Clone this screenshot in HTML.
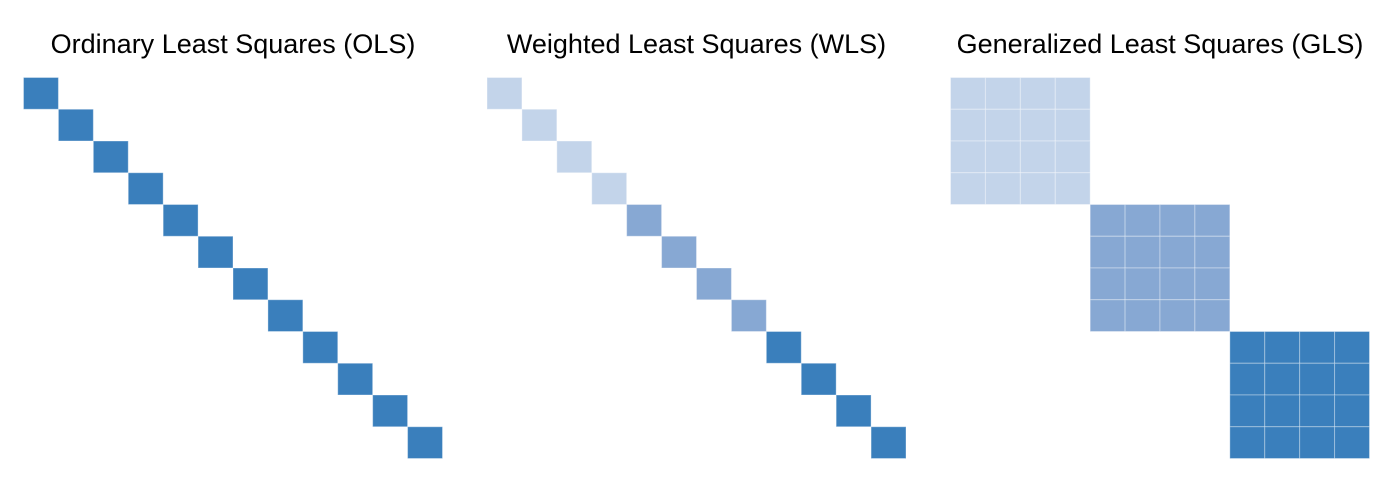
<!DOCTYPE html>
<html><head><meta charset="utf-8">
<style>
html,body{margin:0;padding:0;background:#fff;}
svg{display:block;}
text{font-family:"Liberation Sans",sans-serif;font-size:27px;fill:#000;}
</style></head>
<body>
<svg id="chart" width="1390" height="480" viewBox="0 0 1390 480" xmlns="http://www.w3.org/2000/svg"></svg>
<script>
const panelTitles = ["Ordinary Least Squares (OLS)", "Weighted Least Squares (WLS)", "Generalized Least Squares (GLS)"];
const panelNames = ["ols", "wls", "gls"];
const n = 12;
// diagonal weight levels per row (1=light, 2=mid, 3=dark)
const olsDiag = [3,3,3,3,3,3,3,3,3,3,3,3];
const wlsDiag = [1,1,1,1,2,2,2,2,3,3,3,3];
// GLS block membership per row and block level
const glsGroup = [0,0,0,0,1,1,1,1,2,2,2,2];
const glsLevel = [1,2,3];
const colors = {1:"#c3d4ea", 2:"#87a8d3", 3:"#3a7fbc"};

function matrixFor(p){
  const m = [];
  for(let i=0;i<n;i++){ m.push([]); for(let j=0;j<n;j++){
    let v = 0;
    if(p===0 && i===j) v = olsDiag[i];
    if(p===1 && i===j) v = wlsDiag[i];
    if(p===2 && glsGroup[i]===glsGroup[j]) v = glsLevel[glsGroup[i]];
    m[i].push(v);
  }}
  return m;
}
const svg = document.getElementById('chart');
const NS = "http://www.w3.org/2000/svg";
const panelX = [23.5, 487, 950.5], panelY = 77.5, pw = 419, ph = 381;
for(let p=0;p<3;p++){
  const g = document.createElementNS(NS,'g');
  
  
  svg.appendChild(g);
  const t = document.createElementNS(NS,'text');
  
  
  t.setAttribute('x', panelX[p]+pw/2); t.setAttribute('y', 53);
  t.setAttribute('text-anchor','middle');
  t.textContent = panelTitles[p];
  g.appendChild(t);
  const m = matrixFor(p);
  const cw = pw/n, ch = ph/n;
  for(let i=0;i<n;i++) for(let j=0;j<n;j++){
    const v = m[i][j]; if(!v) continue;
    const r = document.createElementNS(NS,'rect');
    
    
    r.setAttribute('x', panelX[p]+j*cw); r.setAttribute('y', panelY+i*ch);
    r.setAttribute('width', cw); r.setAttribute('height', ch);
    r.setAttribute('fill', colors[v]);
    r.setAttribute('stroke', 'rgba(255,255,255,0.35)');
    r.setAttribute('stroke-width', '1');
    g.appendChild(r);
  }
}
</script>
</body></html>
